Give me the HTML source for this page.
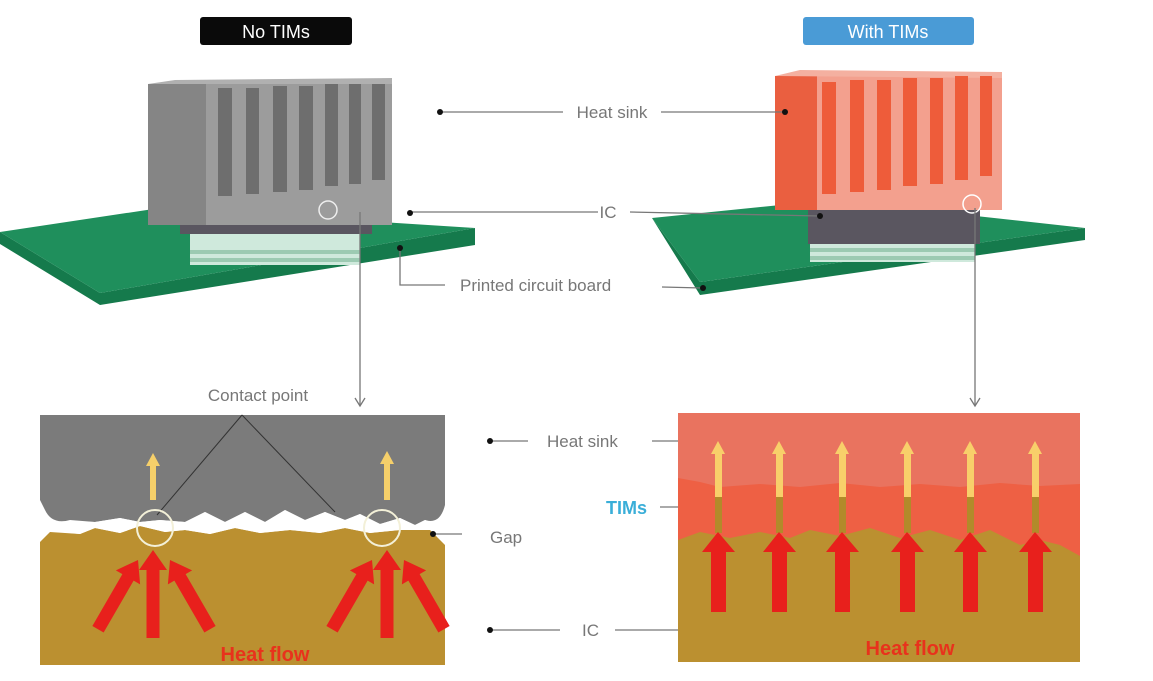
<!DOCTYPE html>
<html><head><meta charset="utf-8"><style>
html,body{margin:0;padding:0;background:#fff;}
svg{display:block;font-family:"Liberation Sans",sans-serif;}
</style></head><body>
<svg width="1153" height="681" viewBox="0 0 1153 681" xmlns="http://www.w3.org/2000/svg">
<defs>
<path id="ra" d="M0,0 L14,20 L6.5,20 L6.5,88 L-6.5,88 L-6.5,20 L-14,20 Z" fill="#e8201c"/>
<path id="rb" d="M0,0 L14,20 L6.5,20 L6.5,80 L-6.5,80 L-6.5,20 L-14,20 Z" fill="#e8201c"/>
</defs>
<rect x="200" y="17" width="152" height="28" rx="3" fill="#0a0a0a"/>
<text x="276" y="38" text-anchor="middle" font-size="18" fill="#fff">No TIMs</text>
<rect x="803" y="17" width="171" height="28" rx="3" fill="#4a9bd6"/>
<text x="888" y="38" text-anchor="middle" font-size="18" fill="#fff">With TIMs</text>

<polygon points="0,232 0,244 100,305 475,245 475,228 100,293" fill="#157a4c"/>
<polygon points="0,232 160,208 475,228 100,293" fill="#1f8f5c"/>
<rect x="190" y="232" width="170" height="33" fill="#cfe9dc"/>
<g fill="#9ccab2"><rect x="190" y="250" width="170" height="4"/><rect x="190" y="258" width="170" height="4"/></g>
<rect x="180" y="208" width="192" height="26" fill="#5a5660"/>
<rect x="180" y="204" width="192" height="6" fill="#a52a2a"/>
<rect x="148" y="84" width="244" height="141" fill="#9c9c9c"/>
<rect x="148" y="84" width="58" height="141" fill="#858585"/>
<polygon points="148,84 175,80 392,78 392,84" fill="#b0b0b0"/>
<g fill="#6e6e6e">
<rect x="218" y="88" width="14" height="108"/><rect x="246" y="88" width="13" height="106"/>
<rect x="273" y="86" width="14" height="106"/><rect x="299" y="86" width="14" height="104"/>
<rect x="325" y="84" width="13" height="102"/><rect x="349" y="84" width="12" height="100"/>
<rect x="372" y="84" width="13" height="96"/></g>
<circle cx="328" cy="210" r="9" fill="none" stroke="#eee" stroke-width="1.5"/>

<polygon points="652,218 700,295 1085,240 1085,228 700,282" fill="#157a4c"/>
<polygon points="652,218 830,200 1085,228 700,282" fill="#1f8f5c"/>
<rect x="810" y="232" width="165" height="30" fill="#cfe9dc"/>
<g fill="#9ccab2"><rect x="810" y="248" width="165" height="4"/><rect x="810" y="256" width="165" height="4"/></g>
<rect x="808" y="208" width="172" height="36" fill="#5a5660"/>
<rect x="838" y="196" width="140" height="14" fill="#d9a21f"/>
<rect x="775" y="76" width="227" height="134" fill="#f3a08e"/>
<rect x="775" y="76" width="42" height="134" fill="#ea5f40"/>
<polygon points="775,76 800,70 1002,72 1002,78" fill="#f4b0a0"/>
<g fill="#ee5c3a">
<rect x="822" y="82" width="14" height="112"/><rect x="850" y="80" width="14" height="112"/>
<rect x="877" y="80" width="14" height="110"/><rect x="903" y="78" width="14" height="108"/>
<rect x="930" y="78" width="13" height="106"/><rect x="955" y="76" width="13" height="104"/>
<rect x="980" y="76" width="12" height="100"/></g>
<circle cx="972" cy="204" r="9" fill="none" stroke="#fff" stroke-width="1.5"/>

<g stroke="#777" stroke-width="1.3" fill="none">
<line x1="440" y1="112" x2="563" y2="112"/><line x1="661" y1="112" x2="785" y2="112"/>
<line x1="410" y1="212" x2="598" y2="212"/><line x1="630" y1="212" x2="820" y2="216"/>
<polyline points="400,247 400,285 445,285"/><line x1="662" y1="287" x2="702" y2="288"/>
<line x1="360" y1="212" x2="360" y2="406"/><polyline points="355,398 360,406 365,398"/>
<line x1="975" y1="208" x2="975" y2="406"/><polyline points="970,398 975,406 980,398"/>
</g>
<g fill="#111"><circle cx="440" cy="112" r="3"/><circle cx="785" cy="112" r="3"/><circle cx="410" cy="213" r="3"/><circle cx="820" cy="216" r="3"/><circle cx="400" cy="248" r="3"/><circle cx="703" cy="288" r="3"/></g>
<g font-size="17" fill="#777">
<text x="612" y="118" text-anchor="middle">Heat sink</text>
<text x="608" y="218" text-anchor="middle">IC</text>
<text x="460" y="291">Printed circuit board</text>
</g>

<path d="M40,542 L50,532 L80,534 L95,528 L120,533 L140,526 L165,532 L185,530 L210,534 L235,528 L260,533 L290,530 L320,533 L345,528 L370,533 L400,530 L430,530 L445,545 L445,665 L40,665 Z" fill="#bb9030"/>
<path d="M40,415 L445,415 L445,505 Q440,525 425,520 L415,525 L400,518 L380,524 L360,514 L345,520 L325,512 L305,520 L285,510 L265,522 L245,512 L225,522 L205,512 L185,522 L160,520 L140,522 L120,518 L95,522 L70,520 Q52,525 45,510 L40,500 Z" fill="#7b7b7b"/>
<path d="M50,531 Q70,520 95,522 L120,518 L140,522 L160,520 L185,522 L205,512 L225,522 L245,512 L265,522 L285,510 L305,520 L325,512 L345,520 L360,514 L380,524 L400,518 L415,525 L425,520 Q440,525 445,520 L445,530 L430,530 L400,530 L370,533 L345,528 L320,533 L290,530 L260,533 L235,528 L210,534 L185,530 L165,532 L140,526 L120,533 L95,528 L80,534 Z" fill="#fff"/>
<g stroke="#333" stroke-width="1"><line x1="242" y1="415" x2="157" y2="515"/><line x1="242" y1="415" x2="335" y2="512"/></g>
<circle cx="155" cy="528" r="18" fill="none" stroke="#f3f0d8" stroke-width="2"/>
<circle cx="382" cy="528" r="18" fill="none" stroke="#f3f0d8" stroke-width="2"/>
<g fill="#f5cf6a">
<rect x="150" y="465" width="6" height="35"/><polygon points="146,466 153,453 160,466"/>
<rect x="384" y="463" width="6" height="37"/><polygon points="380,464 387,451 394,464"/></g>
<use href="#ra" transform="translate(153,550)"/>
<use href="#rb" transform="translate(138,560) rotate(30)"/>
<use href="#rb" transform="translate(170,560) rotate(-30)"/>
<use href="#ra" transform="translate(387,550)"/>
<use href="#rb" transform="translate(372,560) rotate(30)"/>
<use href="#rb" transform="translate(404,560) rotate(-30)"/>
<text x="265" y="661" text-anchor="middle" font-size="20" font-weight="bold" fill="#e8321c">Heat flow</text>
<text x="258" y="401" text-anchor="middle" font-size="17" fill="#777">Contact point</text>
<g stroke="#777" stroke-width="1.3"><line x1="490" y1="441" x2="528" y2="441"/><line x1="433" y1="534" x2="462" y2="534"/><line x1="490" y1="630" x2="560" y2="630"/>
<line x1="686" y1="441" x2="652" y2="441"/><line x1="686" y1="507" x2="660" y2="507"/><line x1="683" y1="630" x2="615" y2="630"/></g>
<g fill="#111"><circle cx="490" cy="441" r="3"/><circle cx="433" cy="534" r="3"/><circle cx="490" cy="630" r="3"/><circle cx="683" cy="441" r="3"/><circle cx="687" cy="508" r="3"/><circle cx="683" cy="630" r="3"/></g>
<g font-size="17" fill="#777">
<text x="547" y="447">Heat sink</text><text x="490" y="543">Gap</text><text x="582" y="636">IC</text></g>
<text x="606" y="514" font-size="18" font-weight="bold" fill="#3aaed8">TIMs</text>

<rect x="678" y="413" width="402" height="249" fill="#bb9030"/>
<path d="M678,413 L1080,413 L1080,556 L1060,545 L1040,540 L1020,545 L990,530 L960,540 L930,530 L900,538 L870,528 L840,536 L810,530 L790,538 L760,532 L730,538 L700,532 L678,540 Z" fill="#ee6044"/>
<path d="M678,413 L1080,413 L1080,484 L1040,486 L1000,483 L960,487 L920,484 L880,487 L840,483 L800,487 L760,484 L720,487 L700,482 L678,478 Z" fill="#e9735f"/>
<g>
<g id="a1">
<rect x="715" y="452" width="7" height="46" fill="#f8cf6a"/><polygon points="711,454 718,441 725,454" fill="#f8cf6a"/>
<rect x="715" y="497" width="7" height="36" fill="#b28a2a"/>
<rect x="711" y="550" width="15" height="62" fill="#e8201c"/><polygon points="702,552 718,532 735,552" fill="#e8201c"/>
</g>
<use href="#a1" x="61"/><use href="#a1" x="124"/><use href="#a1" x="189"/><use href="#a1" x="252"/><use href="#a1" x="317"/>
</g>
<text x="910" y="655" text-anchor="middle" font-size="20" font-weight="bold" fill="#e8321c">Heat flow</text>
</svg>
</body></html>
